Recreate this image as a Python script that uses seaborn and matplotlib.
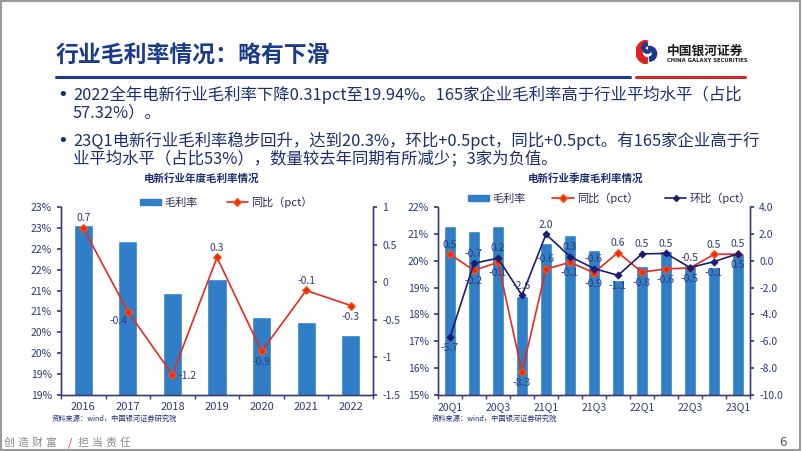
import numpy as np
import matplotlib
matplotlib.use('Agg')
import matplotlib.pyplot as plt
import matplotlib.patches as mpatches
from matplotlib.lines import Line2D
import seaborn as sns

# annual data
years = ['2016', '2017', '2018', '2019', '2020', '2021', '2022']
margin_y = [22.57, 22.18, 20.95, 21.28, 20.36, 20.25, 19.94]
yoy_y = [0.72, -0.39, -1.23, 0.33, -0.92, -0.11, -0.31]
yoy_y_pos = ['above', 'left', 'right', 'above', 'below', 'above', 'below']

# quarterly data
quarters = ['20Q1', '20Q2', '20Q3', '20Q4', '21Q1', '21Q2', '21Q3', '21Q4',
            '22Q1', '22Q2', '22Q3', '22Q4', '23Q1']
margin_q = [21.28, 21.09, 21.28, 18.69, 20.66, 20.97, 20.39, 19.30,
            19.81, 20.36, 19.85, 19.78, 20.30]
yoy_q = [0.48, -0.72, -0.12, -8.30, -0.62, -0.12, -0.89, 0.61,
         -0.85, -0.61, -0.54, 0.48, 0.49]
qoq_q = [-5.70, -0.19, 0.19, -2.59, 1.97, 0.31, -0.58, -1.09,
         0.51, 0.54, -0.51, -0.07, 0.52]
yoy_q_pos = ['above', 'above', 'below', 'below', 'above', 'below', 'below',
             'above', 'below', 'below', 'below', 'above', 'above']
qoq_q_pos = ['below', 'below', 'above', 'above', 'above', 'above', 'above',
             'below', 'above', 'above', 'above', 'below', 'below']

BLUE = '#2f7ec6'
RED = '#e8291c'
NAVY = '#1c1b72'
AX = '#3d3d7c'
TXT = '#2f3a7a'

sns.set_theme(style='white')
plt.rcParams['font.family'] = ['Noto Sans CJK SC', 'DejaVu Sans']
plt.rcParams['axes.unicode_minus'] = False

W, H = 802, 451
fig = plt.figure(figsize=(W / 100, H / 100), dpi=100)


def fx(px):
    return px / W


def fy(py):
    return 1 - py / H


def rect(l, t, r, b):
    return [fx(l), fy(b), (r - l) / W, (b - t) / H]


# slide frame
fig.patches.append(mpatches.Rectangle((0.001, 0.002), 0.997, 0.995, transform=fig.transFigure,
                                      fill=False, edgecolor='#9a9a9a', linewidth=1.5))

# title + rule
fig.text(fx(56), fy(55), '行业毛利率情况：略有下滑', fontsize=16.5, fontweight='bold',
         color='#1b3a8c', va='center', ha='left')
fig.add_artist(Line2D([fx(56), fx(630)], [fy(77), fy(77)], color='#1b3a8c', lw=2.2))
fig.add_artist(Line2D([fx(636), fx(745)], [fy(77), fy(77)], color='#d42a2a', lw=2.2))

# logo
lax = fig.add_axes(rect(636, 40, 660, 64))
lax.set_xlim(-1, 1)
lax.set_ylim(-1, 1)
lax.set_aspect('equal')
lax.axis('off')
lax.add_patch(mpatches.Wedge((0, 0), 1.0, 95, 265, width=0.5, color='#e02020'))
lax.add_patch(mpatches.Wedge((0.1, -0.15), 0.62, -85, 95, width=0.35, color='#1b3a8c'))
lax.add_patch(mpatches.Wedge((-0.05, 0.35), 0.45, 100, 300, width=0.25, color='#1b3a8c'))
fig.text(fx(667), fy(51), '中国银河证券', fontsize=9.2, fontweight='bold', color='#1a1a1a',
         va='center', ha='left')
fig.text(fx(667), fy(61), 'CHINA GALAXY SECURITIES', fontsize=3.8, fontweight='bold',
         color='#1a1a1a', va='center', ha='left', family='DejaVu Sans')

# bullets
bullet_lines = [
    (95, '2022全年电新行业毛利率下降0.31pct至19.94%。165家企业毛利率高于行业平均水平（占比', True),
    (113, '57.32%）。', False),
    (141, '23Q1电新行业毛利率稳步回升，达到20.3%，环比+0.5pct，同比+0.5pct。有165家企业高于行', True),
    (159, '业平均水平（占比53%），数量较去年同期有所减少；3家为负值。', False),
]
for y, s, b in bullet_lines:
    if b:
        fig.text(fx(57), fy(y), '•', fontsize=13, color='#1e2d6e', va='center', ha='left',
                 family='DejaVu Sans')
    fig.text(fx(73), fy(y), s, fontsize=11.8, color='#1e2d6e', va='center', ha='left')


def style_axes(ax, ax2, n, xsize=8):
    for a in (ax, ax2):
        a.set_facecolor('none')
        a.spines['top'].set_visible(False)
        for s in ('left', 'right', 'bottom'):
            a.spines[s].set_color(AX)
            a.spines[s].set_linewidth(1)
    ax.set_xlim(-0.5, n - 0.5)
    ax.set_xticks(np.arange(-0.5, n, 1), minor=True)
    ax.tick_params(axis='x', which='major', length=0, labelsize=xsize, labelcolor=TXT, pad=5)
    ax.tick_params(axis='x', which='minor', length=3, color=AX, direction='out', bottom=True)
    ax.tick_params(axis='y', length=3, color=AX, labelsize=7.5, labelcolor=TXT, left=True)
    ax2.tick_params(axis='y', length=3, color=AX, labelsize=7.5, labelcolor=TXT, right=True)
    ax.set_xlabel('')
    ax.set_ylabel('')
    ax2.set_xlabel('')
    ax2.set_ylabel('')


def put_label(ax, x, y, val, pos, dy=7):
    off = {'above': (0, dy), 'below': (0, -dy - 1), 'left': (-7, -7), 'right': (11, -1)}[pos]
    ax.annotate(f'{val:.1f}', (x, y), xytext=off, textcoords='offset points',
                ha='center', va='center', fontsize=7.5, color=TXT, zorder=6)


# ---------- left chart: annual ----------
ax = fig.add_axes(rect(61, 207, 373, 395))
sns.barplot(x=years, y=margin_y, color=BLUE, saturation=1, width=0.43, ax=ax)
ax.set_ylim(18.5, 23.0)
yt = np.arange(18.5, 23.01, 0.5)
ax.set_yticks(yt)
ax.set_yticklabels([f'{int(v + 0.5)}%' for v in yt])
ax2 = ax.twinx()
xs = np.arange(len(years))
sns.lineplot(x=xs, y=yoy_y, ax=ax2, color=RED, lw=1.2, marker='D', markersize=4.5,
             markerfacecolor='#f02a10', markeredgecolor='#ff5a10', sort=False)
ax2.set_ylim(-1.5, 1.0)
ax2.set_yticks(np.arange(-1.5, 1.01, 0.5))
ax2.set_yticklabels([f'{v:g}' for v in np.arange(-1.5, 1.01, 0.5)])
style_axes(ax, ax2, len(years))
for i, (v, p) in enumerate(zip(yoy_y, yoy_y_pos)):
    put_label(ax2, i, v, v, p)

fig.text(fx(202), fy(179), '电新行业年度毛利率情况', fontsize=7.6, fontweight='bold',
         color='#1e2d6e', ha='center', va='center')
h_bar = mpatches.Patch(color=BLUE)
h_red = Line2D([], [], color=RED, lw=1.2, marker='D', markersize=4,
               markerfacecolor='#f02a10', markeredgecolor='#ff5a10')
h_navy = Line2D([], [], color=NAVY, lw=1.2, marker='D', markersize=3)
leg = fig.legend([h_bar, h_red], ['毛利率', '同比（pct）'], loc='center left',
                 bbox_to_anchor=(fx(140), fy(202)), ncol=2, frameon=False, fontsize=8,
                 handlelength=1.9, handleheight=0.5, handletextpad=0.3, columnspacing=2.6,
                 borderaxespad=0, borderpad=0)
for t in leg.get_texts():
    t.set_color('#2a2a5a')
fig.text(fx(52), fy(419), '资料来源：wind，中国银河证券研究院', fontsize=5.2, color='#1e2d6e',
         ha='left', va='center')

# ---------- right chart: quarterly ----------
bx = fig.add_axes(rect(438, 207, 750, 395))
sns.barplot(x=quarters, y=margin_q, color=BLUE, saturation=1, width=0.54, ax=bx)
bx.set_ylim(15, 22)
bx.set_yticks(np.arange(15, 22.01, 1))
bx.set_yticklabels([f'{v}%' for v in range(15, 23)])
bx.set_xticks(np.arange(0, len(quarters), 2))
bx.set_xticklabels(quarters[::2])
bx2 = bx.twinx()
xq = np.arange(len(quarters))
sns.lineplot(x=xq, y=yoy_q, ax=bx2, color=RED, lw=1.2, marker='D', markersize=4.5,
             markerfacecolor='#f02a10', markeredgecolor='#ff5a10', sort=False)
sns.lineplot(x=xq, y=qoq_q, ax=bx2, color=NAVY, lw=1.2, marker='D', markersize=3.5,
             markerfacecolor=NAVY, markeredgecolor=NAVY, sort=False)
bx2.set_ylim(-10, 4)
bx2.set_yticks(np.arange(-10, 4.01, 2))
bx2.set_yticklabels([f'{v:.1f}' for v in np.arange(-10, 4.01, 2)])
style_axes(bx, bx2, len(quarters), xsize=7.5)
for i in range(len(quarters)):
    close = abs(yoy_q[i] - qoq_q[i]) < 1.0
    for v, p in ((yoy_q[i], yoy_q_pos[i]), (qoq_q[i], qoq_q_pos[i])):
        anchor = v
        if close:
            anchor = max(yoy_q[i], qoq_q[i]) if p == 'above' else min(yoy_q[i], qoq_q[i])
        put_label(bx2, i, anchor, v, p)

fig.text(fx(586), fy(179), '电新行业季度毛利率情况', fontsize=7.6, fontweight='bold',
         color='#1e2d6e', ha='center', va='center')
leg2 = fig.legend([h_bar, h_red, h_navy], ['毛利率', '同比（pct）', '环比（pct）'],
                  loc='center left', bbox_to_anchor=(fx(468), fy(198)), ncol=3, frameon=False,
                  fontsize=8, handlelength=1.9, handleheight=0.5, handletextpad=0.3,
                  columnspacing=2.4, borderaxespad=0, borderpad=0)
for t in leg2.get_texts():
    t.set_color('#2a2a5a')
fig.text(fx(432), fy(419), '资料来源：wind，中国银河证券研究院', fontsize=5.2, color='#1e2d6e',
         ha='left', va='center')

# footer
footer = '创造财富/担当责任'
fx0 = [9, 23, 37, 51, 70, 83, 97, 111, 125]
for ch, x in zip(footer, fx0):
    fig.text(fx(x), fy(443), ch, fontsize=7.8, color='#d42a2a' if ch == '/' else '#8a8a8a',
             ha='center', va='center')
fig.text(fx(783), fy(442), '6', fontsize=9.5, color='#555555', ha='center', va='center')

fig.savefig('out.png', dpi=100)
